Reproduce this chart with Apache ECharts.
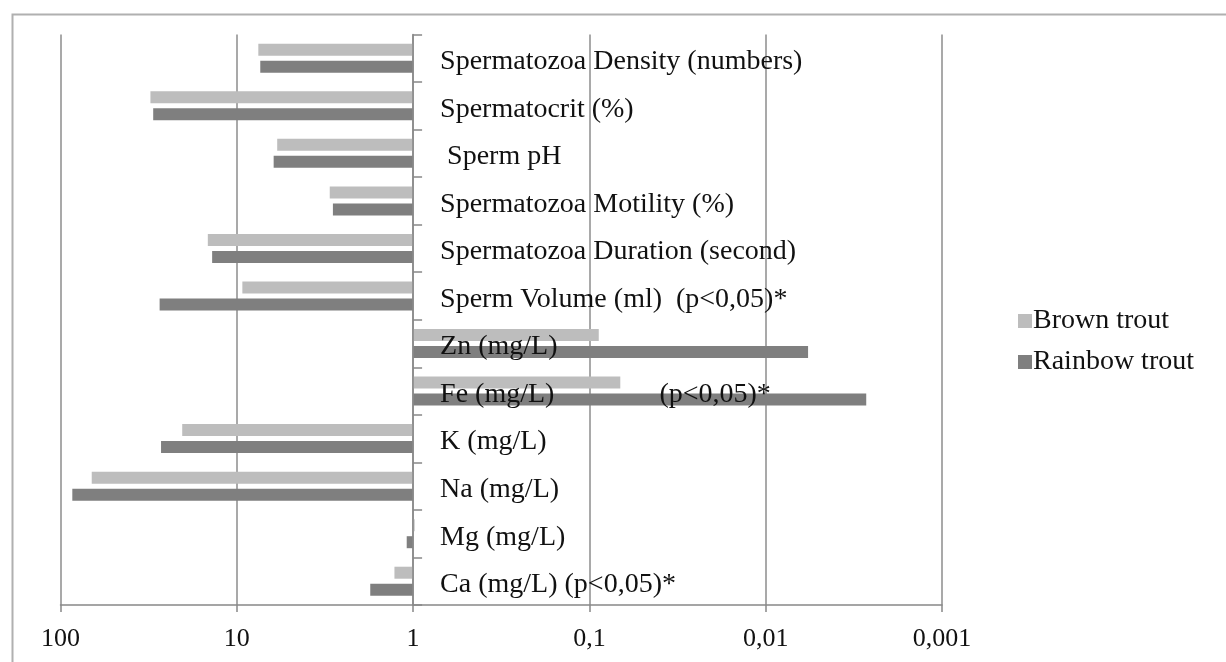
<!DOCTYPE html>
<html>
<head>
<meta charset="utf-8">
<script src="https://cdn.jsdelivr.net/npm/echarts@6/dist/echarts.min.js"></script>
<style>
html,body{margin:0;padding:0;background:#fff;}
#chart{width:1226px;height:662px;}
</style>
</head>
<body>
<div id="chart"></div>
<script>
// ---- data ----
const categories = [
  'Spermatozoa Density (numbers)',
  'Spermatocrit (%)',
  ' Sperm pH',
  'Spermatozoa Motility (%)',
  'Spermatozoa Duration (second)',
  'Sperm Volume (ml)  (p<0,05)*',
  'Zn (mg/L)',
  'Fe (mg/L)               (p<0,05)*',
  'K (mg/L)',
  'Na (mg/L)',
  'Mg (mg/L)',
  'Ca (mg/L) (p<0,05)*'
];
const seriesNames = ['Brown trout', 'Rainbow trout'];
const brownTrout   = [7.55, 30.9, 5.9, 2.97, 14.6, 9.3, 0.0885, 0.0668, 20.4, 66.5, 0.98, 1.276];
const rainbowTrout = [7.36, 29.8, 6.18, 2.85, 13.8, 27.4, 0.00575, 0.00269, 26.9, 85.7, 1.087, 1.75];
const xTickValues = [100, 10, 1, 0.1, 0.01, 0.001];
const xTickLabels = ['100', '10', '1', '0,1', '0,01', '0,001'];

// ---- layout ----
const GRID_LEFT = 60.5, GRID_RIGHT_X = 942, GRID_TOP = 34.5, GRID_BOTTOM_Y = 605;
const gridW = GRID_RIGHT_X - GRID_LEFT;
const logMax = Math.log10(xTickValues[0]), logMin = Math.log10(xTickValues[xTickValues.length - 1]);
const oneOffset = gridW * (logMax - 0) / (logMax - logMin);
const FONT = '"Liberation Serif", "Times New Roman", serif';

const chart = echarts.init(document.getElementById('chart'));
chart.setOption({
  animation: false,
  backgroundColor: '#ffffff',
  graphic: [{
    type: 'rect', left: 10, top: 12, z: -10,
    shape: { width: 1400, height: 800 },
    style: { fill: 'none', stroke: '#b0b0b0', lineWidth: 2 }
  }],
  grid: {
    left: GRID_LEFT, top: GRID_TOP,
    width: gridW, height: GRID_BOTTOM_Y - GRID_TOP
  },
  legend: {
    orient: 'vertical',
    left: 1013, top: 302,
    itemWidth: 14, itemHeight: 14, itemGap: 13,
    icon: 'rect',
    data: seriesNames,
    textStyle: { fontFamily: FONT, fontSize: 28, color: '#111', padding: [0, 0, 0, -4] }
  },
  xAxis: {
    type: 'log', logBase: 10,
    min: xTickValues[xTickValues.length - 1], max: xTickValues[0],
    inverse: true,
    axisLine: { show: true, lineStyle: { color: '#888', width: 1.5 } },
    axisTick: { show: true, length: 7, lineStyle: { color: '#888', width: 1.5 } },
    splitLine: { show: true, lineStyle: { color: '#8c8c8c', width: 1.5 } },
    minorTick: { show: false },
    axisLabel: {
      margin: 21, fontFamily: FONT, fontSize: 26, color: '#111',
      formatter: function (v) {
        const lv = Math.log10(v);
        let best = 0, bd = Infinity;
        xTickValues.forEach((t, i) => { const d = Math.abs(Math.log10(t) - lv); if (d < bd) { bd = d; best = i; } });
        return xTickLabels[best];
      }
    }
  },
  yAxis: {
    type: 'category',
    data: categories,
    inverse: true,
    position: 'left',
    offset: -oneOffset,
    z: 10,
    axisLine: { show: true, onZero: false, lineStyle: { color: '#888', width: 1.5 } },
    axisTick: { show: true, inside: true, length: 9, lineStyle: { color: '#888', width: 1.5 } },
    splitLine: { show: false },
    axisLabel: {
      inside: true, margin: 27,
      formatter: function (v) { return '{t|' + v + '}'; },
      rich: {
        t: { fontFamily: FONT, fontSize: 28, color: '#111', padding: [7, 0, 0, 0] }
      }
    }
  },
  series: [
    {
      name: seriesNames[0], type: 'bar', data: brownTrout,
      barWidth: 12, barGap: '42%',
      itemStyle: { color: '#bdbdbd' }
    },
    {
      name: seriesNames[1], type: 'bar', data: rainbowTrout,
      barWidth: 12, barGap: '42%',
      itemStyle: { color: '#7f7f7f' }
    }
  ]
});
</script>
</body>
</html>
